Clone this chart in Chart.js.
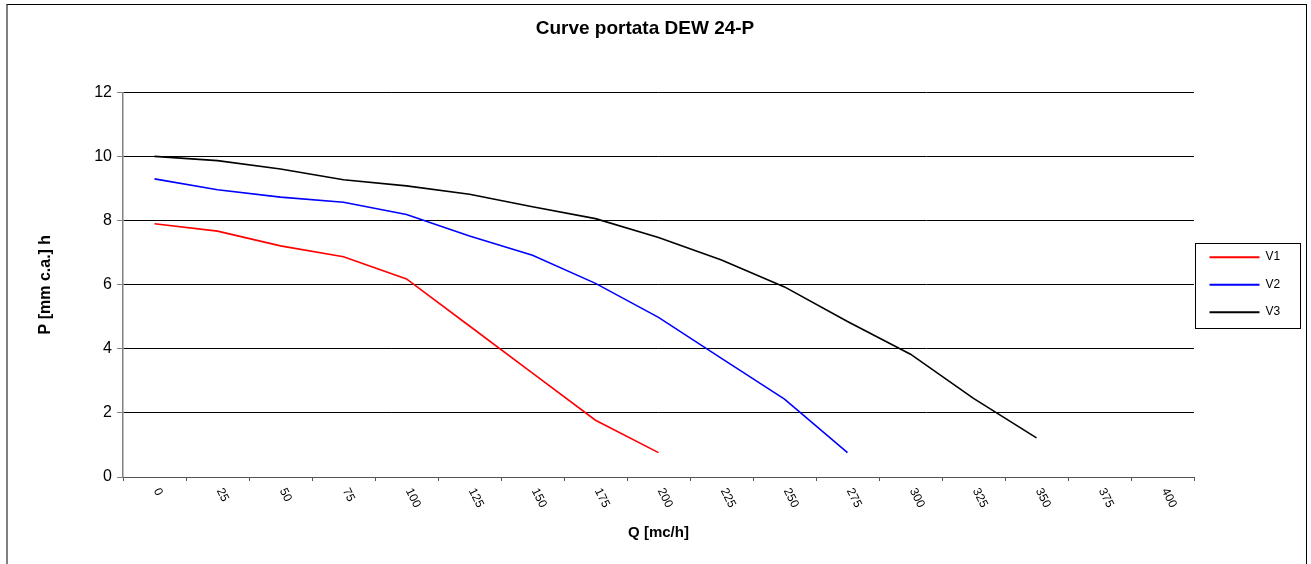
<!DOCTYPE html>
<html>
<head>
<meta charset="utf-8">
<title>Curve portata DEW 24-P</title>
<script src="https://cdn.jsdelivr.net/npm/chart.js@4/dist/chart.umd.min.js"></script>
<style>
  body { margin: 0; background: #fff; }
  #wrap { position: relative; width: 1311px; height: 564px; overflow: hidden; }
  #frame {
    position: absolute; left: 6px; top: 4px; width: 1298px; height: 620px;
    border: 1px solid #000; border-left: 2px solid #808080; pointer-events: none;
  }
  canvas { position: absolute; left: 0; top: 0; }
</style>
</head>
<body>
<div id="wrap">
  <div id="frame"></div>
  <canvas id="myChart" width="1311" height="564"></canvas>
</div>
<script>
'use strict';

// portata Q [mc/h]
let categories = ['0', '25', '50', '75', '100', '125', '150', '175', '200', '225', '250', '275', '300', '325', '350', '375', '400'];
// pressione P per velocita
let v1 = [7.9, 7.67, 7.21, 6.87, 6.18, 4.71, 3.24, 1.77, 0.76];
let v2 = [9.3, 8.96, 8.73, 8.57, 8.19, 7.52, 6.92, 6.04, 4.98, 3.7, 2.43, 0.76];
let v3 = [10.0, 9.87, 9.61, 9.27, 9.08, 8.82, 8.43, 8.06, 7.47, 6.77, 5.93, 4.85, 3.83, 2.45, 1.22];
let seriesNames = ['V1', 'V2', 'V3'];
let yTicks = [0, 2, 4, 6, 8, 10, 12];

let fontFamily = '"Liberation Sans", Arial, sans-serif';
Chart.defaults.font.family = fontFamily;
Chart.defaults.color = '#000';

function makeSet(label, data, color) {
  return {
    label: label,
    data: data,
    borderColor: color,
    backgroundColor: color,
    borderWidth: 1.6,
    pointRadius: 0,
    pointHoverRadius: 0,
    tension: 0,
    fill: false
  };
}

// x labels rotated clockwise like the excel chart
let rotatedLabels = {
  id: 'rotatedLabels',
  afterDraw(chart) {
    let ctx = chart.ctx;
    let xScale = chart.scales.x;
    ctx.save();
    ctx.font = '12px ' + fontFamily;
    ctx.fillStyle = '#000';
    ctx.textAlign = 'left';
    ctx.textBaseline = 'middle';
    for (let i = 0; i < categories.length; i++) {
      let x = xScale.getPixelForTick(i);
      ctx.save();
      ctx.translate(x + 2, xScale.top + 12);
      ctx.rotate(63 * Math.PI / 180);
      ctx.fillText(categories[i], 0, 0);
      ctx.restore();
    }
    ctx.restore();
  }
};

// box round the legend
let legendBox = {
  id: 'legendBox',
  afterDraw(chart) {
    let legend = chart.legend;
    let boxes = legend.legendHitBoxes;
    if (!boxes || !boxes.length) {
      return;
    }
    let first = boxes[0];
    let last = boxes[boxes.length - 1];
    let left = Math.round(legend.left) + 1.5;
    let right = Math.round(legend.right) + 10.5;
    let top = Math.round(first.top) - 7.5;
    let bottom = Math.round(last.top + last.height) + 10.5;
    let ctx = chart.ctx;
    ctx.save();
    ctx.strokeStyle = '#000';
    ctx.lineWidth = 1;
    ctx.strokeRect(left, top, right - left, bottom - top);
    ctx.restore();
  }
};

let chartStuff = {
  type: 'line',
  data: {
    labels: categories,
    datasets: [
      makeSet(seriesNames[0], v1, '#ff0000'),
      makeSet(seriesNames[1], v2, '#0000ff'),
      makeSet(seriesNames[2], v3, '#000000')
    ]
  },
  options: {
    responsive: false,
    animation: false,
    layout: {
      padding: { left: 0, right: 21, top: 0, bottom: 0 }
    },
    plugins: {
      title: {
        display: true,
        text: 'Curve portata DEW 24-P',
        color: '#000',
        font: { size: 19, weight: 'bold' },
        padding: { top: 17, bottom: 52.5 }
      },
      legend: {
        display: true,
        position: 'right',
        fullSize: false,
        maxWidth: 96,
        labels: {
          boxWidth: 50,
          boxHeight: 2,
          padding: 15.5,
          color: '#000',
          font: { size: 12 },
          generateLabels(chart) {
            let items = Chart.defaults.plugins.legend.labels.generateLabels(chart);
            items.forEach(function (item) {
              item.lineWidth = 0;
            });
            return items;
          }
        }
      },
      tooltip: { enabled: false }
    },
    scales: {
      x: {
        type: 'category',
        offset: true,
        grid: {
          display: true,
          offset: true,
          drawOnChartArea: false,
          drawTicks: true,
          tickLength: 4,
          color: '#555'
        },
        border: { display: true, color: '#555', width: 1 },
        ticks: { display: false },
        title: {
          display: true,
          text: 'Q [mc/h]',
          color: '#000',
          font: { size: 15, weight: 'bold' },
          padding: { top: 0, bottom: 22 }
        },
        afterFit(scale) {
          scale.height = 87;
        }
      },
      y: {
        min: 0,
        max: 12,
        afterBuildTicks(scale) {
          scale.ticks = yTicks.map(function (v) {
            return { value: v };
          });
        },
        grid: {
          color: '#000',
          lineWidth: 1,
          drawTicks: true,
          tickLength: 6,
          tickColor: '#808080'
        },
        border: { display: true, color: '#808080', width: 1.5 },
        ticks: {
          padding: 5,
          color: '#000',
          font: { size: 16 }
        },
        title: {
          display: true,
          text: 'P [mm c.a.] h',
          color: '#000',
          font: { size: 16, weight: 'bold' },
          padding: { top: 36, bottom: 0 }
        },
        afterFit(scale) {
          scale.width = 123;
        }
      }
    }
  },
  plugins: [rotatedLabels, legendBox]
};

const ctx = document.getElementById('myChart').getContext('2d');
new Chart(ctx, chartStuff);
</script>
</body>
</html>
